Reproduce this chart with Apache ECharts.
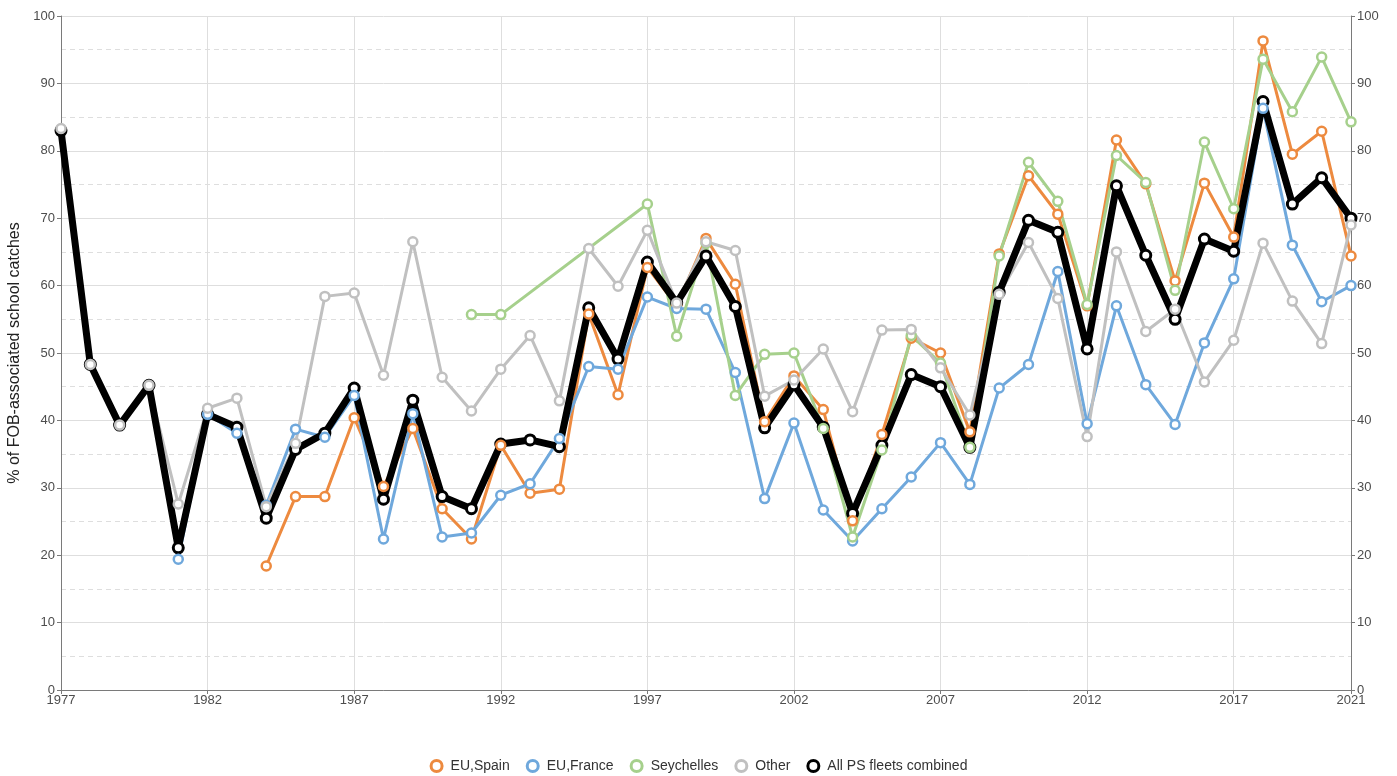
<!DOCTYPE html>
<html>
<head>
<meta charset="utf-8">
<script src="https://cdn.jsdelivr.net/npm/echarts@6/dist/echarts.min.js"></script>
<style>
html,body{margin:0;padding:0;background:#fff;}
#chart{width:1397px;height:776px;}
</style>
</head>
<body>
<div id="chart"></div>
<script>
const years = [1977,1978,1979,1980,1981,1982,1983,1984,1985,1986,1987,1988,1989,1990,1991,1992,1993,1994,1995,1996,1997,1998,1999,2000,2001,2002,2003,2004,2005,2006,2007,2008,2009,2010,2011,2012,2013,2014,2015,2016,2017,2018,2019,2020,2021];

const spain = [null,null,null,null,null,null,null,
  18.4,28.7,28.7,40.4,30.2,38.8,26.9,22.4,36.3,29.2,29.8,55.8,43.8,62.7,57.0,67.0,60.2,39.8,46.6,41.6,25.1,37.9,52.2,50.0,38.3,64.7,76.3,70.6,57.0,81.6,75.1,60.7,75.2,67.2,96.3,79.5,82.9,64.4];

const france = [null,null,null,null,
  19.4,40.9,38.1,27.4,38.7,37.5,43.7,22.4,41.0,22.7,23.3,28.9,30.6,37.3,48.0,47.6,58.3,56.6,56.5,47.1,28.4,39.6,26.7,22.1,26.9,31.6,36.7,30.5,44.8,48.3,62.1,39.5,57.0,45.3,39.4,51.5,61.0,86.3,66.0,57.6,60.0];

const seychelles = [null,null,null,null,null,null,null,null,null,null,null,null,null,null,
  55.7,55.7,null,null,null,null,72.1,52.5,66.3,43.7,49.8,50.0,38.8,22.7,35.6,52.6,48.5,36.0,64.4,78.3,72.5,57.2,79.3,75.3,59.3,81.3,71.4,93.6,85.8,93.9,84.3];

const other = [83.3,48.3,39.3,45.2,27.6,41.8,43.3,27.2,36.6,58.4,58.9,46.7,66.5,46.4,41.4,47.6,52.6,42.9,65.5,59.9,68.2,57.4,66.5,65.2,43.6,46.0,50.6,41.3,53.4,53.5,47.8,40.8,58.7,66.4,58.1,37.6,65.0,53.2,56.5,45.7,51.9,66.3,57.7,51.4,69.0];

const combined = [83.0,48.3,39.3,45.2,21.1,40.9,39.0,25.5,35.7,38.1,44.8,28.3,43.0,28.7,26.9,36.5,37.1,36.1,56.7,49.1,63.5,57.4,64.4,56.9,38.9,45.3,39.0,26.2,36.3,46.8,45.0,36.0,59.0,69.7,67.9,50.6,74.8,64.5,55.0,66.9,65.1,87.3,72.1,76.0,70.0];

const xTickLabels = [1977,1982,1987,1992,1997,2002,2007,2012,2017,2021];
const yTicks = [0,10,20,30,40,50,60,70,80,90,100];

const seriesNames = ['EU,Spain','EU,France','Seychelles','Other','All PS fleets combined'];
const colors = {
  'EU,Spain':'#ED8A3F',
  'EU,France':'#6FA8DC',
  'Seychelles':'#A6D08C',
  'Other':'#C0C0C0',
  'All PS fleets combined':'#000000'
};
const valuesByName = {
  'EU,Spain':spain,
  'EU,France':france,
  'Seychelles':seychelles,
  'Other':other,
  'All PS fleets combined':combined
};
const ALL = 'All PS fleets combined';
const colouredNames = ['EU,Spain','EU,France','Seychelles','Other'];

function pairs(arr){ return years.map((y,i)=>[y, arr[i]]); }

function lineOnly(name, z){
  const isAll = name === ALL;
  return {
    name: name, type: 'line', z: z,
    data: pairs(valuesByName[name]),
    connectNulls: true,
    showSymbol: false, symbol: 'none',
    lineStyle: {color: colors[name], width: isAll ? 7 : 3, join: 'round', cap: 'round'},
    itemStyle: {color: colors[name]},
    emphasis: {disabled: true},
    silent: true
  };
}
function markersOnly(name, z){
  const isAll = name === ALL;
  return {
    name: name, type: 'scatter', z: z,
    data: pairs(valuesByName[name]).filter(p => p[1] !== null),
    symbol: 'circle',
    symbolSize: isAll ? 10 : 9,
    itemStyle: {color: '#ffffff', borderColor: colors[name], borderWidth: isAll ? 3 : 2.5, opacity: 1},
    emphasis: {disabled: true},
    silent: true
  };
}

const series = [];
colouredNames.forEach(n => series.push(lineOnly(n, 1)));
series.push(lineOnly(ALL, 2));
series.push(markersOnly(ALL, 3));
colouredNames.forEach(n => series.push(markersOnly(n, 4)));

const axisGray = '#7a7a7a';
const labelGray = '#4d4d4d';
const gridGray = '#dedede';
const FONT = 'Liberation Sans, Arial, sans-serif';

const option = {
  animation: false,
  grid: {left: 61, right: 46, top: 16, bottom: 86, containLabel: false, outerBoundsMode: 'none'},
  legend: {
    top: 759,
    left: 'center',
    padding: 0,
    icon: 'circle',
    itemWidth: 18,
    itemHeight: 11,
    itemGap: 16,
    selectedMode: false,
    textStyle: {fontSize: 14, color: '#333', fontFamily: FONT},
    data: seriesNames.map(n => ({
      name: n,
      itemStyle: {color: '#ffffff', borderColor: colors[n], borderWidth: 3}
    }))
  },
  xAxis: {
    type: 'value',
    min: 1977,
    max: 2021,
    interval: 5,
    axisLine: {show: true, lineStyle: {color: axisGray, width: 1}},
    axisTick: {show: true, length: 4, lineStyle: {color: axisGray}},
    axisLabel: {
      color: labelGray, fontSize: 13, margin: 4, fontFamily: FONT,
      showMaxLabel: true, showMinLabel: true,
      formatter: v => xTickLabels.indexOf(v) >= 0 ? String(v) : ''
    },
    splitLine: {show: true, lineStyle: {color: gridGray, width: 1}}
  },
  yAxis: [
    {
      type: 'value',
      min: 0, max: 100, interval: 10,
      name: '% of FOB-associated school catches',
      nameLocation: 'middle',
      nameGap: 36,
      nameTextStyle: {fontSize: 16, color: '#222', fontFamily: FONT},
      axisLine: {show: true, lineStyle: {color: axisGray, width: 1}},
      axisTick: {show: true, length: 4, lineStyle: {color: axisGray}},
      axisLabel: {color: labelGray, fontSize: 13, margin: 6, fontFamily: FONT,
        formatter: v => yTicks.indexOf(v) >= 0 ? String(v) : ''},
      splitLine: {show: true, lineStyle: {color: gridGray, width: 1}},
      minorTick: {show: false, splitNumber: 2},
      minorSplitLine: {show: true, lineStyle: {color: gridGray, width: 1, type: [5, 4]}}
    },
    {
      type: 'value',
      position: 'right',
      min: 0, max: 100, interval: 10,
      axisLine: {show: true, lineStyle: {color: axisGray, width: 1}},
      axisTick: {show: true, length: 4, lineStyle: {color: axisGray}},
      axisLabel: {color: labelGray, fontSize: 13, margin: 6, fontFamily: FONT,
        formatter: v => yTicks.indexOf(v) >= 0 ? String(v) : ''},
      splitLine: {show: false}
    }
  ],
  series: series
};

const chart = echarts.init(document.getElementById('chart'), null, {renderer: 'canvas'});
chart.setOption(option);
</script>
</body>
</html>
